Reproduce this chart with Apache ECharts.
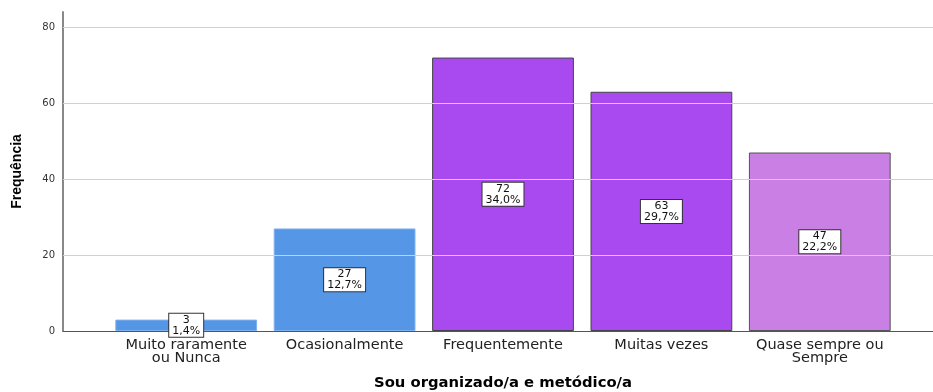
<!DOCTYPE html>
<html>
<head>
<meta charset="utf-8">
<script src="https://cdn.jsdelivr.net/npm/echarts@6/dist/echarts.min.js"></script>
<style>
  html, body { margin: 0; padding: 0; background: #fff; }
  #chart { width: 933px; height: 392px; }
</style>
</head>
<body>
<div id="chart"></div>
<script>
// Response categories and their counts / percentages
const categories = ['Muito raramente\nou Nunca', 'Ocasionalmente', 'Frequentemente', 'Muitas vezes', 'Quase sempre ou\nSempre'];
const counts = [3, 27, 72, 63, 47];
const percents = ['1,4%', '12,7%', '34,0%', '29,7%', '22,2%'];
const yTicks = [0, 20, 40, 60, 80];

const fills = ['#5596e6', '#5596e6', '#a94af1', '#a94af1', '#c97fe3'];
const borders = ['#7fb0ee', '#7fb0ee', '#444444', '#444444', '#555555'];

const SANS = '"Liberation Sans", Arial, sans-serif';
const WIDE = '"DejaVu Sans", sans-serif';
const TOP = 12, BOTTOM = 61; // plot: y from 12 to 331
const YMAX = 84;

const chart = echarts.init(document.getElementById('chart'));
chart.setOption({
  animation: false,
  backgroundColor: '#ffffff',
  grid: [
    // frame grid: axis lines and gridlines spanning the full plot
    { left: 63, right: 0, top: TOP, bottom: BOTTOM, containLabel: false, outerBoundsMode: 'none' },
    // bar grid: categories centred inside the plot
    { left: 107, right: 34, top: TOP, bottom: BOTTOM, containLabel: false, outerBoundsMode: 'none' }
  ],
  xAxis: [
    {
      gridIndex: 0, type: 'value', min: 0, max: 1,
      axisLine: { show: true, lineStyle: { color: '#555', width: 1 } },
      axisTick: { show: false }, axisLabel: { show: false }, splitLine: { show: false }
    },
    {
      gridIndex: 1, type: 'category', data: categories,
      axisLine: { show: false }, axisTick: { show: false },
      axisLabel: { color: '#222', fontFamily: WIDE, fontSize: 14.5, lineHeight: 13, margin: 8, interval: 0 },
      name: 'Sou organizado/a e metódico/a', nameLocation: 'middle', nameGap: 45,
      nameTextStyle: { color: '#000', fontFamily: WIDE, fontSize: 14.8, fontWeight: 'bold' }
    }
  ],
  yAxis: [
    {
      gridIndex: 0, type: 'value', min: 0, max: YMAX, interval: 20,
      axisLine: { show: true, lineStyle: { color: '#888', width: 2 } },
      axisTick: { show: false },
      axisLabel: {
        color: '#333', fontFamily: WIDE, fontSize: 10, margin: 8,
        formatter: v => (yTicks.includes(v) ? String(v) : '')
      },
      splitLine: { show: false },
      name: 'Frequência', nameLocation: 'middle', nameGap: 39, nameRotate: 90,
      nameTextStyle: { color: '#000', fontFamily: SANS, fontSize: 14, fontWeight: 'bold' }
    },
    {
      gridIndex: 1, type: 'value', min: 0, max: YMAX,
      show: false, splitLine: { show: false }
    }
  ],
  series: [
    {
      // gridlines at the labelled ticks only
      type: 'line', xAxisIndex: 0, yAxisIndex: 0, data: [], silent: true,
      markLine: {
        silent: true, symbol: ['none', 'none'], label: { show: false },
        lineStyle: { color: '#d0d0d0', width: 1, type: 'solid' },
        data: yTicks.filter(v => v > 0).map(v => ({ yAxis: v }))
      }
    },
    {
      type: 'bar', xAxisIndex: 1, yAxisIndex: 1,
      barCategoryGap: '10.5%',
      data: counts.map((v, i) => ({
        value: v,
        itemStyle: { color: fills[i], borderColor: borders[i], borderWidth: 1 }
      })),
      label: {
        show: true, position: 'inside',
        formatter: p => counts[p.dataIndex] + '\n' + percents[p.dataIndex],
        color: '#111', fontFamily: WIDE, fontSize: 11, lineHeight: 11,
        backgroundColor: '#ffffff', borderColor: '#333', borderWidth: 1,
        padding: [1, 3, 0, 3]
      }
    }
  ]
});
</script>
</body>
</html>
